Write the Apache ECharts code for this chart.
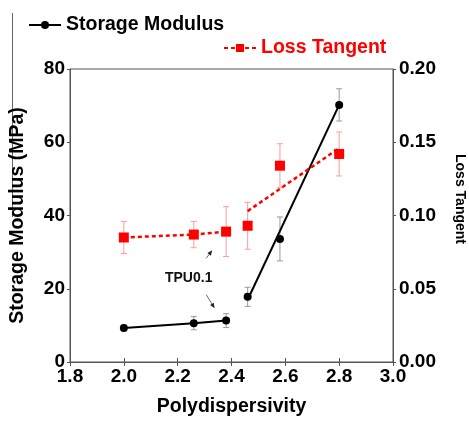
<!DOCTYPE html>
<html><head><meta charset="utf-8">
<script src="https://cdn.jsdelivr.net/npm/echarts@6/dist/echarts.min.js"></script>
<style>html,body{margin:0;padding:0;background:#fff}#c{width:469px;height:422px}</style>
</head><body><div id="c"></div>
<script>
// ---- data ----
const polyX = [2.0, 2.26, 2.38, 2.46, 2.58, 2.8];
const storageModulus = [9.3, 10.6, 11.3, 17.8, 33.6, 70.2];
const storageErr = [0.8, 1.8, 1.9, 2.6, 6.0, 4.4];
const lossTangent = [0.085, 0.087, 0.089, 0.093, 0.134, 0.142];
const lossErr = [0.011, 0.009, 0.017, 0.016, 0.015, 0.015];
const storageFitX = [2.46, 2.8];
const storageFitY = [17.0, 70.2];
const lossFitX = [2.46, 2.8];
const lossFitY = [0.103, 0.146];
const annotationText = 'TPU0.1';
const annotationPos = [2.241, 22.8];
const arrowStart = [[2.306, 28.3], [2.306, 18.4]];
const arrowEnd = [[2.328, 30.5], [2.337, 14.7]];

const FONT = '"Liberation Sans", Arial, sans-serif';
const lowGroup = [0, 1, 2];
const highGroup = [3, 4, 5];

const chart = echarts.init(document.getElementById('c'), null, {renderer: 'canvas'});

function errRender(color) {
  return function (params, api) {
    const x = api.value(0), lo = api.value(1), hi = api.value(2);
    const p1 = api.coord([x, lo]), p2 = api.coord([x, hi]);
    const cap = 3;
    const st = {stroke: color, lineWidth: 1};
    return {type: 'group', children: [
      {type: 'line', shape: {x1: p1[0], y1: p1[1], x2: p2[0], y2: p2[1]}, style: st},
      {type: 'line', shape: {x1: p1[0] - cap, y1: p1[1], x2: p1[0] + cap, y2: p1[1]}, style: st},
      {type: 'line', shape: {x1: p2[0] - cap, y1: p2[1], x2: p2[0] + cap, y2: p2[1]}, style: st}
    ]};
  };
}

const option = {
  animation: false,
  backgroundColor: '#fff',
  textStyle: {fontFamily: FONT},
  grid: {left: 69, right: 76, top: 69, bottom: 55, show: true, borderColor: '#555', borderWidth: 1},
  legend: [
    {data: ['Storage Modulus'], left: 23, top: 10, itemWidth: 32, itemHeight: 10,
     textStyle: {fontFamily: FONT, fontSize: 19.5, fontWeight: 'bold', color: '#000'}},
    {data: ['Loss Tangent'], left: 218, top: 33, itemWidth: 32, itemHeight: 10,
     textStyle: {fontFamily: FONT, fontSize: 19.5, fontWeight: 'bold', color: '#ff0000'}}
  ],
  xAxis: [
    {type: 'value', min: 1.8, max: 3.0, interval: 0.2, position: 'bottom',
     name: 'Polydispersivity', nameLocation: 'middle', nameGap: 35,
     nameTextStyle: {fontFamily: FONT, fontSize: 19.5, fontWeight: 'bold', color: '#000'},
     axisLine: {show: true, lineStyle: {color: '#555', width: 1}},
     axisTick: {show: true, inside: true, length: 4, lineStyle: {color: '#555'}},
     axisLabel: {fontFamily: FONT, fontSize: 19, fontWeight: 'bold', color: '#000', margin: 5,
                 formatter: v => v.toFixed(1)},
     splitLine: {show: false}},
    {type: 'value', min: 1.8, max: 3.0, interval: 0.2, position: 'top',
     axisLine: {show: true, lineStyle: {color: '#555', width: 1}},
     axisTick: {show: true, inside: true, length: 4, lineStyle: {color: '#555'}},
     axisLabel: {show: false}, splitLine: {show: false}}
  ],
  yAxis: [
    {type: 'value', min: 0, max: 80, interval: 20, position: 'left',
     name: 'Storage Modulus (MPa)', nameLocation: 'middle', nameGap: 42, nameRotate: 90,
     nameTextStyle: {fontFamily: FONT, fontSize: 19.5, fontWeight: 'bold', color: '#000'},
     axisLine: {show: true, lineStyle: {color: '#555', width: 1}},
     axisTick: {show: true, inside: false, length: 3, lineStyle: {color: '#555'}},
     axisLabel: {fontFamily: FONT, fontSize: 19, fontWeight: 'bold', color: '#000', margin: 5},
     splitLine: {show: false}},
    {type: 'value', min: 0, max: 0.2, interval: 0.05, position: 'right',
     axisLine: {show: true, lineStyle: {color: '#555', width: 1}},
     axisTick: {show: true, inside: false, length: 3, lineStyle: {color: '#555'}},
     axisLabel: {fontFamily: FONT, fontSize: 19, fontWeight: 'bold', color: '#000', margin: 6,
                 formatter: v => v.toFixed(2)},
     splitLine: {show: false}}
  ],
  graphic: [
    {type: 'line', shape: {x1: 12.5, y1: 13, x2: 12.5, y2: 217}, style: {stroke: '#666', lineWidth: 1}},
    {type: 'text', x: 460, y: 199, rotation: -Math.PI / 2,
     style: {text: 'Loss Tangent', fontFamily: FONT, fontSize: 14, fontWeight: 'bold', fill: '#000',
             align: 'center', verticalAlign: 'middle'}}
  ],
  series: [
    {type: 'custom', name: 'smErr', xAxisIndex: 0, yAxisIndex: 0, z: 1,
     renderItem: errRender('#999'),
     data: polyX.map((x, i) => [x, storageModulus[i] - storageErr[i], storageModulus[i] + storageErr[i]])},
    {type: 'custom', name: 'ltErr', xAxisIndex: 0, yAxisIndex: 1, z: 1,
     renderItem: errRender('#ff9a9a'),
     data: polyX.map((x, i) => [x, lossTangent[i] - lossErr[i], lossTangent[i] + lossErr[i]])},
    {type: 'line', name: 'smFit', xAxisIndex: 0, yAxisIndex: 0, z: 2, showSymbol: false, symbol: 'none',
     lineStyle: {color: '#000', width: 2},
     data: storageFitX.map((x, i) => [x, storageFitY[i]])},
    {type: 'line', name: 'ltFit', xAxisIndex: 0, yAxisIndex: 1, z: 2, showSymbol: false, symbol: 'none',
     lineStyle: {color: '#ff0000', width: 2.5, type: [4, 3]},
     data: lossFitX.map((x, i) => [x, lossFitY[i]])},
    {type: 'line', name: 'Loss Tangent', xAxisIndex: 0, yAxisIndex: 1, z: 3,
     symbol: 'rect', symbolSize: 10, itemStyle: {color: '#ff0000', opacity: 1},
     lineStyle: {color: '#ff0000', width: 2.5, type: [4, 3]},
     data: lowGroup.map(i => [polyX[i], lossTangent[i]])},
    {type: 'scatter', name: 'ltPts', xAxisIndex: 0, yAxisIndex: 1, z: 3,
     symbol: 'rect', symbolSize: 10, itemStyle: {color: '#ff0000', opacity: 1},
     data: highGroup.map(i => [polyX[i], lossTangent[i]])},
    {type: 'line', name: 'Storage Modulus', xAxisIndex: 0, yAxisIndex: 0, z: 4,
     symbol: 'circle', symbolSize: 8, itemStyle: {color: '#000', opacity: 1},
     lineStyle: {color: '#000', width: 2},
     data: lowGroup.map(i => [polyX[i], storageModulus[i]])},
    {type: 'scatter', name: 'smPts', xAxisIndex: 0, yAxisIndex: 0, z: 4,
     symbol: 'circle', symbolSize: 8, itemStyle: {color: '#000', opacity: 1},
     data: highGroup.map(i => [polyX[i], storageModulus[i]])},
    {type: 'custom', name: 'annot', xAxisIndex: 0, yAxisIndex: 0, z: 5,
     renderItem: function (params, api) {
       const i = params.dataIndex;
       const s = api.coord(arrowStart[i]), e = api.coord(arrowEnd[i]);
       const ang = Math.atan2(e[1] - s[1], e[0] - s[0]);
       const L = 5, W = 2.2;
       const bx = e[0] - L * Math.cos(ang), by = e[1] - L * Math.sin(ang);
       const px = -Math.sin(ang) * W, py = Math.cos(ang) * W;
       const children = [
         {type: 'line', shape: {x1: s[0], y1: s[1], x2: bx, y2: by}, style: {stroke: '#444', lineWidth: 0.8}},
         {type: 'polygon', shape: {points: [[e[0], e[1]], [bx + px, by + py], [bx - px, by - py]]}, style: {fill: '#222'}}
       ];
       if (i === 0) {
         const t = api.coord(annotationPos);
         children.push({type: 'text', x: t[0], y: t[1],
           style: {text: annotationText, fontFamily: FONT, fontSize: 14, fontWeight: 'bold', fill: '#111',
                   align: 'center', verticalAlign: 'middle'}});
       }
       return {type: 'group', children: children};
     },
     data: arrowStart.map((p, i) => [p[0], p[1]])}
  ]
};
chart.setOption(option);
</script></body></html>
